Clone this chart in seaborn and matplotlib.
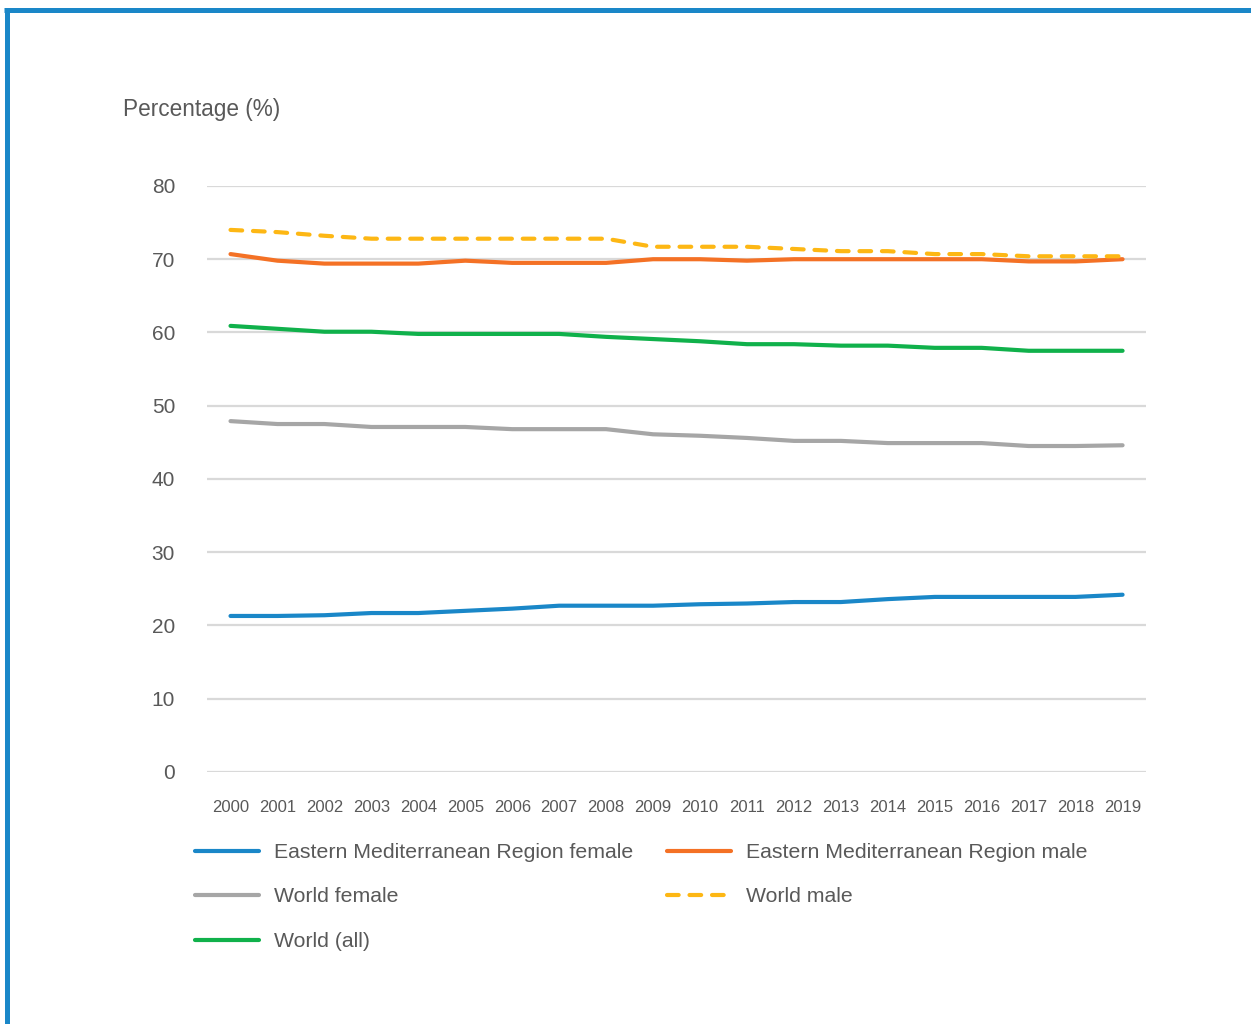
import numpy as np
import pandas as pd
import seaborn as sns
import matplotlib.pyplot as plt
from matplotlib.lines import Line2D
from matplotlib.transforms import ScaledTranslation

# Values
years = list(range(2000, 2020))
emr_female = [21.3, 21.3, 21.4, 21.7, 21.7, 22.0, 22.3, 22.7, 22.7, 22.7,
              22.9, 23.0, 23.2, 23.2, 23.6, 23.9, 23.9, 23.9, 23.9, 24.2]
emr_male = [70.7, 69.8, 69.4, 69.4, 69.4, 69.8, 69.5, 69.5, 69.5, 70.0,
            70.0, 69.8, 70.0, 70.0, 70.0, 70.0, 70.0, 69.7, 69.7, 70.0]
world_female = [47.9, 47.5, 47.5, 47.1, 47.1, 47.1, 46.8, 46.8, 46.8, 46.1,
                45.9, 45.6, 45.2, 45.2, 44.9, 44.9, 44.9, 44.5, 44.5, 44.6]
world_male = [74.0, 73.7, 73.2, 72.8, 72.8, 72.8, 72.8, 72.8, 72.8, 71.7,
              71.7, 71.7, 71.4, 71.1, 71.1, 70.7, 70.7, 70.4, 70.4, 70.4]
world_all = [60.9, 60.5, 60.1, 60.1, 59.8, 59.8, 59.8, 59.8, 59.4, 59.1,
             58.8, 58.4, 58.4, 58.2, 58.2, 57.9, 57.9, 57.5, 57.5, 57.5]

series_names = ["Eastern Mediterranean Region female", "Eastern Mediterranean Region male",
                "World female", "World male", "World (all)"]
series_values = [emr_female, emr_male, world_female, world_male, world_all]
colors = ["#1a87c8", "#f47125", "#a6a6a6", "#fdb714", "#10b14b"]

df = pd.DataFrame({
    "year": years * len(series_names),
    "value": sum(series_values, []),
    "series": np.repeat(series_names, len(years)),
})

sns.set_style("white")
plt.rcParams["font.family"] = ["Liberation Sans", "DejaVu Sans"]
text_color = "#595959"

fig = plt.figure(figsize=(12.51, 10.24), dpi=100)
ax = fig.add_axes([0.1655, 0.2461, 0.7506, 0.5723])

ax.yaxis.grid(True, color="#d9d9d9", linewidth=1.6)
ax.set_axisbelow(True)

handles = {}
for name, color in zip(series_names, colors):
    sub = df[df["series"] == name]
    dashed = name == "World male"
    sns.lineplot(data=sub, x="year", y="value", ax=ax, color=color,
                 linewidth=3.0, legend=False)
    line = ax.lines[-1]
    line.set_solid_capstyle("round")
    line.set_dash_capstyle("round")
    if dashed:
        line.set_dashes((2.8, 2.6))
    handles[name] = Line2D([], [], color=color, linewidth=3.0,
                           linestyle=(0, (2.8, 2.6)) if dashed else "-",
                           solid_capstyle="round", dash_capstyle="round")

ax.set_xlim(1999.5, 2019.5)
ax.set_ylim(0, 80)
ax.set_xticks(years)
ax.set_xticklabels([str(y) for y in years], fontsize=12, color=text_color)
ax.set_yticks(range(0, 81, 10))
ax.set_yticklabels([str(v) for v in range(0, 81, 10)], fontsize=15, color=text_color)
# nudge y labels a few pixels down, as in the reference
shift = ScaledTranslation(0, -3 / 72, fig.dpi_scale_trans)
for t in ax.get_yticklabels():
    t.set_transform(t.get_transform() + shift)
ax.tick_params(axis="y", length=0, pad=23)
ax.tick_params(axis="x", length=0, pad=20)
ax.set_xlabel("")
ax.set_ylabel("")
sns.despine(ax=ax, left=True, bottom=True)

fig.text(0.0983, 0.8926, "Percentage (%)", fontsize=16.3, color=text_color, va="center")

left_names = ["Eastern Mediterranean Region female", "World female", "World (all)"]
right_names = ["Eastern Mediterranean Region male", "World male"]
for names, x0 in [(left_names, 195 / 1251), (right_names, 667 / 1251)]:
    leg = fig.legend([handles[n] for n in names], names, loc="upper left",
                     bbox_to_anchor=(x0, 0.1768), frameon=False, fontsize=15.3,
                     handlelength=3.0, handletextpad=0.7, labelspacing=1.2,
                     borderpad=0, borderaxespad=0)
    for t in leg.get_texts():
        t.set_color(text_color)

# blue frame on left and top edges
fig.add_artist(Line2D([6.5 / 1251, 6.5 / 1251], [0, 1 - 9.5 / 1024], color="#1a87c8",
                      linewidth=3.6, transform=fig.transFigure, solid_capstyle="butt"))
fig.add_artist(Line2D([4 / 1251, 1], [1 - 9.5 / 1024, 1 - 9.5 / 1024], color="#1a87c8",
                      linewidth=3.6, transform=fig.transFigure, solid_capstyle="butt"))

fig.savefig("out.png", dpi=100)
